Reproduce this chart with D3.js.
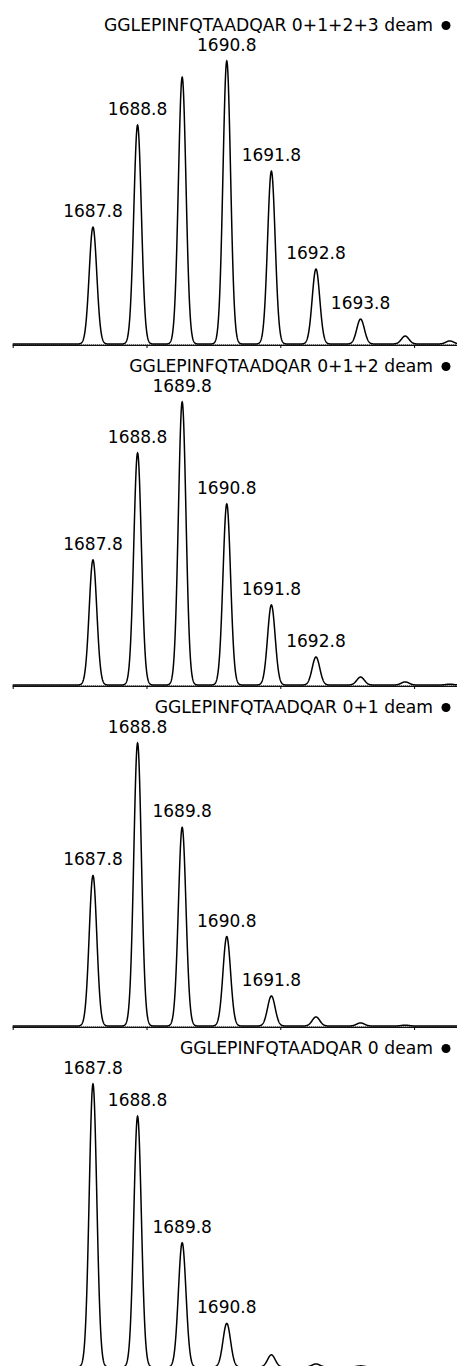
<!DOCTYPE html>
<html>
<head>
<meta charset="utf-8">
<script src="https://cdn.jsdelivr.net/npm/d3@7"></script>
<style>
  html, body { margin: 0; padding: 0; background: #fff; }
  svg { display: block; }
  text { font-family: "DejaVu Sans", Verdana, sans-serif; font-size: 17px; fill: #000; }
  text.title { font-size: 17.2px; }
</style>
</head>
<body>
<script>
// Isotope envelopes of GGLEPINFQTAADQAR at increasing deamidation states
const titles = [
  "GGLEPINFQTAADQAR 0+1+2+3 deam",
  "GGLEPINFQTAADQAR 0+1+2 deam",
  "GGLEPINFQTAADQAR 0+1 deam",
  "GGLEPINFQTAADQAR 0 deam"
];

// isotope peak m/z positions
const mz = [1687.8, 1688.8, 1689.8, 1690.8, 1691.8, 1692.8, 1693.8, 1694.8, 1695.8];

// relative intensities (% of base peak), one array per spectrum
const deam0123 = [41.3, 77.4, 94.3, 100, 61.1, 26.5, 8.8, 2.8, 1.1];
const deam012  = [44.2, 82.0, 100, 64.0, 28.3, 9.9, 2.8, 1.1, 0.3];
const deam01   = [53.2, 100, 70.2, 31.6, 10.6, 3.2, 1.1, 0.3, 0];
const deam0    = [100, 88.6, 43.9, 15.4, 4.3, 1.1, 0.4, 0, 0];
const spectra = [deam0123, deam012, deam01, deam0];

// which peaks carry an m/z label in each spectrum
const labelled = [
  [1687.8, 1688.8, 1690.8, 1691.8, 1692.8, 1693.8],
  [1687.8, 1688.8, 1689.8, 1690.8, 1691.8, 1692.8],
  [1687.8, 1688.8, 1689.8, 1690.8, 1691.8],
  [1687.8, 1688.8, 1689.8, 1690.8]
];

// baseline tick positions
const tickValues = [1686, 1689, 1692, 1695];

const W = 457, H = 1366;
const panelStep = 341;
const baseOffset = 344;   // baseline position within a panel
const plotHeight = 283;   // height of the 100% peak
const sigma = 0.085;      // peak width (m/z units)

const svg = d3.select("body").append("svg")
  .attr("width", W).attr("height", H);

const x = d3.scaleLinear().domain([1686, 1696]).range([12.7, 458.7]);
const y = d3.scaleLinear().domain([0, 100]).range([baseOffset, baseOffset - plotHeight]);

const grid = d3.range(1686, 1696.3, 0.004);

spectra.forEach((vals, i) => {
  const g = svg.append("g").attr("transform", `translate(0,${i * panelStep})`);

  // baseline: solid rule with a dotted rule on top
  g.append("line")
    .attr("x1", x(1686)).attr("x2", W)
    .attr("y1", baseOffset + 1.5).attr("y2", baseOffset + 1.5)
    .attr("stroke", "#111").attr("stroke-width", 1);
  g.append("line")
    .attr("x1", x(1686)).attr("x2", W)
    .attr("y1", baseOffset + 0.5).attr("y2", baseOffset + 0.5)
    .attr("stroke", "#222").attr("stroke-width", 1)
    .attr("stroke-dasharray", "1,1");

  const axis = d3.axisBottom(x).tickValues(tickValues).tickSize(3).tickFormat("");
  g.append("g")
    .attr("transform", `translate(0,${baseOffset + 1})`)
    .call(axis)
    .call(a => a.select(".domain").remove())
    .call(a => a.selectAll("line").attr("stroke", "#000"));

  // profile trace built from the centroid intensities
  const profile = grid.map(m => {
    let s = 0;
    mz.forEach((c, k) => {
      const d = (m - c) / sigma;
      s += vals[k] * Math.exp(-0.5 * d * d);
    });
    return [m, s];
  });
  g.append("path")
    .datum(profile)
    .attr("fill", "none")
    .attr("stroke", "#000")
    .attr("stroke-width", 1.5)
    .attr("d", d3.line().x(d => x(d[0])).y(d => y(d[1])));

  // m/z labels above peaks
  g.selectAll("text.lbl")
    .data(mz.map((m, k) => ({ m, v: vals[k] })).filter(d => labelled[i].includes(d.m)))
    .join("text")
    .attr("class", "lbl")
    .attr("x", d => x(d.m))
    .attr("y", d => y(d.v) - 10)
    .attr("text-anchor", "middle")
    .text(d => d.m.toFixed(1));

  // title with marker
  g.append("text")
    .attr("class", "title")
    .attr("x", 433).attr("y", 31)
    .attr("text-anchor", "end")
    .text(titles[i]);
  g.append("circle")
    .attr("cx", 446).attr("cy", 25.5).attr("r", 4.5)
    .attr("fill", "#000");
});
</script>
</body>
</html>
